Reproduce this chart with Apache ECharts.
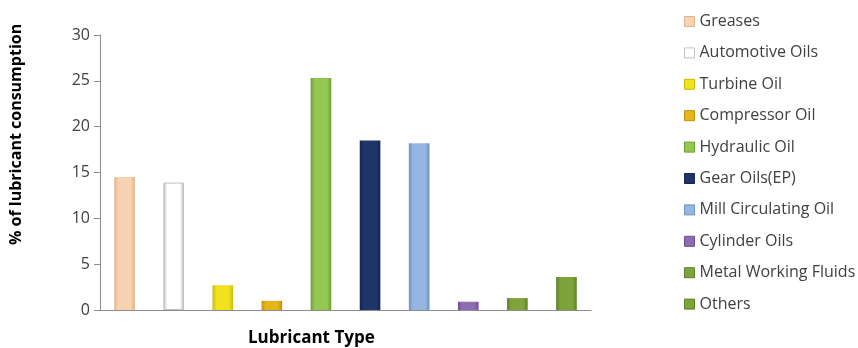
<!DOCTYPE html>
<html><head><meta charset="utf-8">
<script src="https://cdn.jsdelivr.net/npm/echarts@6/dist/echarts.min.js"></script>
<style>html,body{margin:0;padding:0;background:#fff}#c{width:858px;height:348px}</style>
</head><body><div id="c"></div>
<script>
const categories = ["Greases","Automotive Oils","Turbine Oil","Compressor Oil","Hydraulic Oil","Gear Oils(EP)","Mill Circulating Oil","Cylinder Oils","Metal Working Fluids","Others"];
const values = [14.5, 13.9, 2.7, 1.0, 25.3, 18.5, 18.2, 0.9, 1.3, 3.6];
const yTicks = [0, 5, 10, 15, 20, 25, 30];
const colors = ["#F8D3B2","#FFFFFF","#F0E21C","#E6B51A","#93C752","#1F3569","#94B6E0","#8E6CB2","#7FA33D","#7CA43B"];
const edges = ["#E0B48E","#BFBFBF","#C9BB10","#C0900E","#6E9E35","#15264E","#6F92BE","#6D4E8E","#5E7E28","#5D7E26"];

const series = categories.map((name, i) => ({
  name,
  type: 'bar',
  stack: 'all',
  barWidth: '42%',
  data: categories.map((_, j) => j === i ? values[i] : null),
  itemStyle: {
    color: new echarts.graphic.LinearGradient(0, 0, 1, 0, [
      {offset: 0, color: edges[i]},
      {offset: 0.2, color: colors[i]},
      {offset: 0.8, color: colors[i]},
      {offset: 1, color: edges[i]}
    ]),
    borderColor: i === 1 ? '#BFBFBF' : 'transparent',
    borderWidth: i === 1 ? 1 : 0
  }
}));

const chart = echarts.init(document.getElementById('c'));
chart.setOption({
  animation: false,
  grid: {left: 100, right: 267, top: 35, bottom: 38, containLabel: false},
  legend: {
    orient: 'vertical', left: 679, top: 7, itemGap: 12.4,
    itemWidth: 10, itemHeight: 10,
    icon: 'rect',
    textStyle: {fontFamily: 'Open Sans', fontSize: 16, lineHeight: 19, color: '#404040', padding: [0,0,0,0]},
    data: categories.map((c, i) => ({name: c, itemStyle: {color: colors[i], borderColor: edges[i], borderWidth: 1}}))
  },
  graphic: [
    {type: 'text', left: 248, top: 330, style: {text: 'Lubricant Type', fontFamily: 'Open Sans', fontWeight: 'bold', fontSize: 17, fill: '#000'}},
    {type: 'text', x: 8, y: 245, rotation: Math.PI/2, style: {text: '% of lubricant consumption', fontFamily: 'Open Sans', fontWeight: 'bold', fontSize: 16, fill: '#000', textVerticalAlign: 'top'}}
  ],
  xAxis: {
    type: 'category', data: categories,
    axisLine: {lineStyle: {color: '#8C8C8C'}},
    axisTick: {show: false}, axisLabel: {show: false}
  },
  yAxis: {
    type: 'value', min: yTicks[0], max: yTicks[yTicks.length-1], interval: 5,
    axisLine: {show: true, lineStyle: {color: '#8C8C8C'}},
    axisTick: {show: true, length: 6, lineStyle: {color: '#8C8C8C'}},
    splitLine: {show: false},
    axisLabel: {fontFamily: 'Open Sans', fontSize: 16, color: '#404040', margin: 10}
  },
  series
});
</script></body></html>
